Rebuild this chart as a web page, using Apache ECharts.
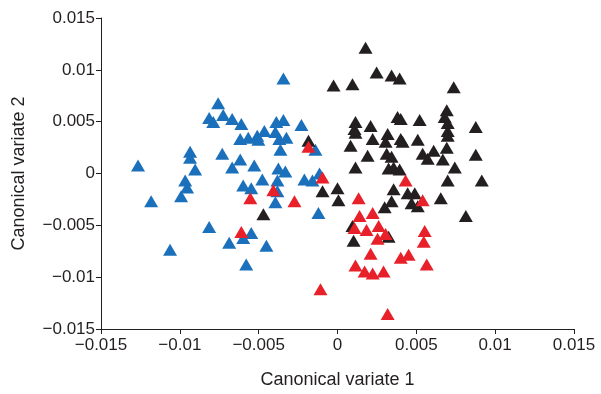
<!DOCTYPE html>
<html>
<head>
<meta charset="utf-8">
<script src="https://cdn.jsdelivr.net/npm/echarts@6/dist/echarts.min.js"></script>
<style>
  html, body { margin: 0; padding: 0; background: #fff; }
  #chart { width: 601px; height: 394px; }
</style>
</head>
<body>
<div id="chart"></div>
<script>
// canonical variate scores, [cv1, cv2]
const bluePoints = [
  [-0.00343, 0.00917], [-0.00757, 0.00678], [-0.00814, 0.00535], [-0.00788, 0.00497],
  [-0.00725, 0.00564], [-0.00668, 0.00525], [-0.0061, 0.00478], [-0.00617, 0.00334],
  [-0.00566, 0.00344], [-0.00509, 0.00363], [-0.00502, 0.00325], [-0.00464, 0.00411],
  [-0.00388, 0.00497], [-0.00343, 0.00516], [-0.00394, 0.00401], [-0.00369, 0.00334],
  [-0.00324, 0.00344], [-0.00362, 0.00229], [-0.00229, 0.00468], [-0.00935, 0.0021],
  [-0.00935, 0.00153], [-0.00903, 0.00038], [-0.00731, 0.00191], [-0.01265, 0.00076],
  [-0.00668, 0.00057], [-0.00617, 0.00134], [-0.00528, 0.00076], [-0.00375, 0.00048],
  [-0.00331, 0.00019], [-0.00477, -0.00057], [-0.00381, -0.00067], [-0.00966, -0.00067],
  [-0.00954, -0.00134], [-0.00992, -0.0022], [-0.01182, -0.00267], [-0.00598, -0.00115],
  [-0.00547, -0.00143], [-0.00381, -0.00172], [-0.00394, -0.00277], [-0.00814, -0.00516],
  [-0.00687, -0.00669], [-0.00598, -0.00621], [-0.00547, -0.00573], [-0.00451, -0.00697],
  [-0.01062, -0.00735], [-0.00579, -0.00879], [-0.0021, -0.00057], [-0.00159, -0.00067],
  [-0.00114, 0.0], [-0.0014, 0.00229], [-0.00121, -0.00382]
]
const blackPoints = [
  [0.00178, 0.01213], [-0.00025, 0.0085], [0.00095, 0.0086], [0.00248, 0.00974],
  [0.00343, 0.00946], [0.00394, 0.00917], [0.00737, 0.00831], [0.00693, 0.00611],
  [0.0068, 0.00544], [0.00699, 0.00487], [0.00699, 0.00411], [0.00699, 0.00363],
  [0.00877, 0.00449], [0.00114, 0.00497], [0.00108, 0.0043], [0.00114, 0.00392],
  [0.0021, 0.00458], [0.00223, 0.00334], [0.00083, 0.00267], [0.00381, 0.00544],
  [0.00401, 0.00525], [0.00521, 0.00516], [0.00318, 0.00382], [0.00305, 0.00306],
  [0.00401, 0.00334], [0.00413, 0.00306], [0.00509, 0.00325], [0.00191, 0.00172],
  [0.00312, 0.00191], [0.00343, 0.00162], [0.0054, 0.00191], [0.00572, 0.00143],
  [0.0061, 0.0022], [0.00693, 0.00248], [0.00668, 0.00134], [0.00877, 0.00181],
  [0.00114, 0.00057], [0.00324, 0.00048], [0.00356, 0.00057], [0.00394, 0.00038],
  [0.00744, 0.00057], [0.00699, -0.00067], [0.00915, -0.00067], [-0.00184, 0.00315],
  [0.0, -0.00143], [0.00006, -0.00258], [-0.00095, -0.00172], [0.00356, -0.00153],
  [0.00445, -0.00191], [0.0049, -0.00191], [0.00343, -0.00267], [0.00299, -0.00325],
  [0.0047, -0.00287], [0.00509, -0.00315], [0.00655, -0.00239], [0.00814, -0.00411],
  [0.00095, -0.00506], [0.00102, -0.00649], [0.00324, -0.00611], [-0.0047, -0.00392]
]
const redPoints = [
  [-0.00184, 0.00258], [-0.00553, -0.00239], [-0.00407, -0.00162], [-0.00273, -0.00267],
  [-0.0061, -0.00564], [-0.00095, -0.00038], [0.00134, -0.00239], [0.00432, -0.00067],
  [0.0054, -0.00258], [0.0014, -0.00411], [0.00223, -0.00382], [0.00108, -0.00525],
  [0.00184, -0.00544], [0.00261, -0.00506], [0.00305, -0.00583], [0.00254, -0.0063],
  [0.00553, -0.00554], [0.00547, -0.00659], [0.0021, -0.00774], [0.00114, -0.00888],
  [0.00172, -0.00946], [0.00223, -0.00965], [0.00292, -0.00946], [0.00401, -0.00812],
  [0.00451, -0.00783], [0.00566, -0.00879], [-0.00108, -0.01117], [0.00318, -0.01356]
]
const tickValues = [-0.015, -0.01, -0.005, 0, 0.005, 0.01, 0.015]

const ink = '#231f20'
const fontFamily = 'Liberation Sans, Arial, sans-serif'

function fmt(v) {
  return String(Number(v.toFixed(3))).replace('-', '\u2212')
}

const axisCommon = {
  type: 'value',
  min: tickValues[0],
  max: tickValues[tickValues.length - 1],
  interval: 0.005,
  nameLocation: 'middle',
  nameTextStyle: { color: ink, fontSize: 18, fontFamily },
  axisLine: { show: true, onZero: false, lineStyle: { color: ink, width: 1 } },
  axisTick: { show: true, inside: false, length: 5, lineStyle: { color: ink } },
  axisLabel: { color: ink, fontSize: 17, fontFamily, formatter: fmt },
  splitLine: { show: false }
}

function scatter(data, color) {
  return {
    type: 'scatter',
    data,
    symbol: 'triangle',
    symbolSize: [14, 12],
    itemStyle: { color, opacity: 1 },
    emphasis: { disabled: true }
  }
}

const chart = echarts.init(document.getElementById('chart'))
chart.setOption({
  animation: false,
  backgroundColor: '#fff',
  grid: { left: 101, right: 27, top: 18, bottom: 61, containLabel: false },
  xAxis: Object.assign({}, axisCommon, {
    name: 'Canonical variate 1',
    nameGap: 42,
    axisLabel: Object.assign({}, axisCommon.axisLabel, { margin: 8 })
  }),
  yAxis: Object.assign({}, axisCommon, {
    name: 'Canonical variate 2',
    nameGap: 73,
    axisLabel: Object.assign({}, axisCommon.axisLabel, { margin: 6 })
  }),
  series: [
    scatter(bluePoints, '#1a70bb'),
    scatter(blackPoints, '#231f20'),
    scatter(redPoints, '#e8202a')
  ]
})
</script>
</body>
</html>
